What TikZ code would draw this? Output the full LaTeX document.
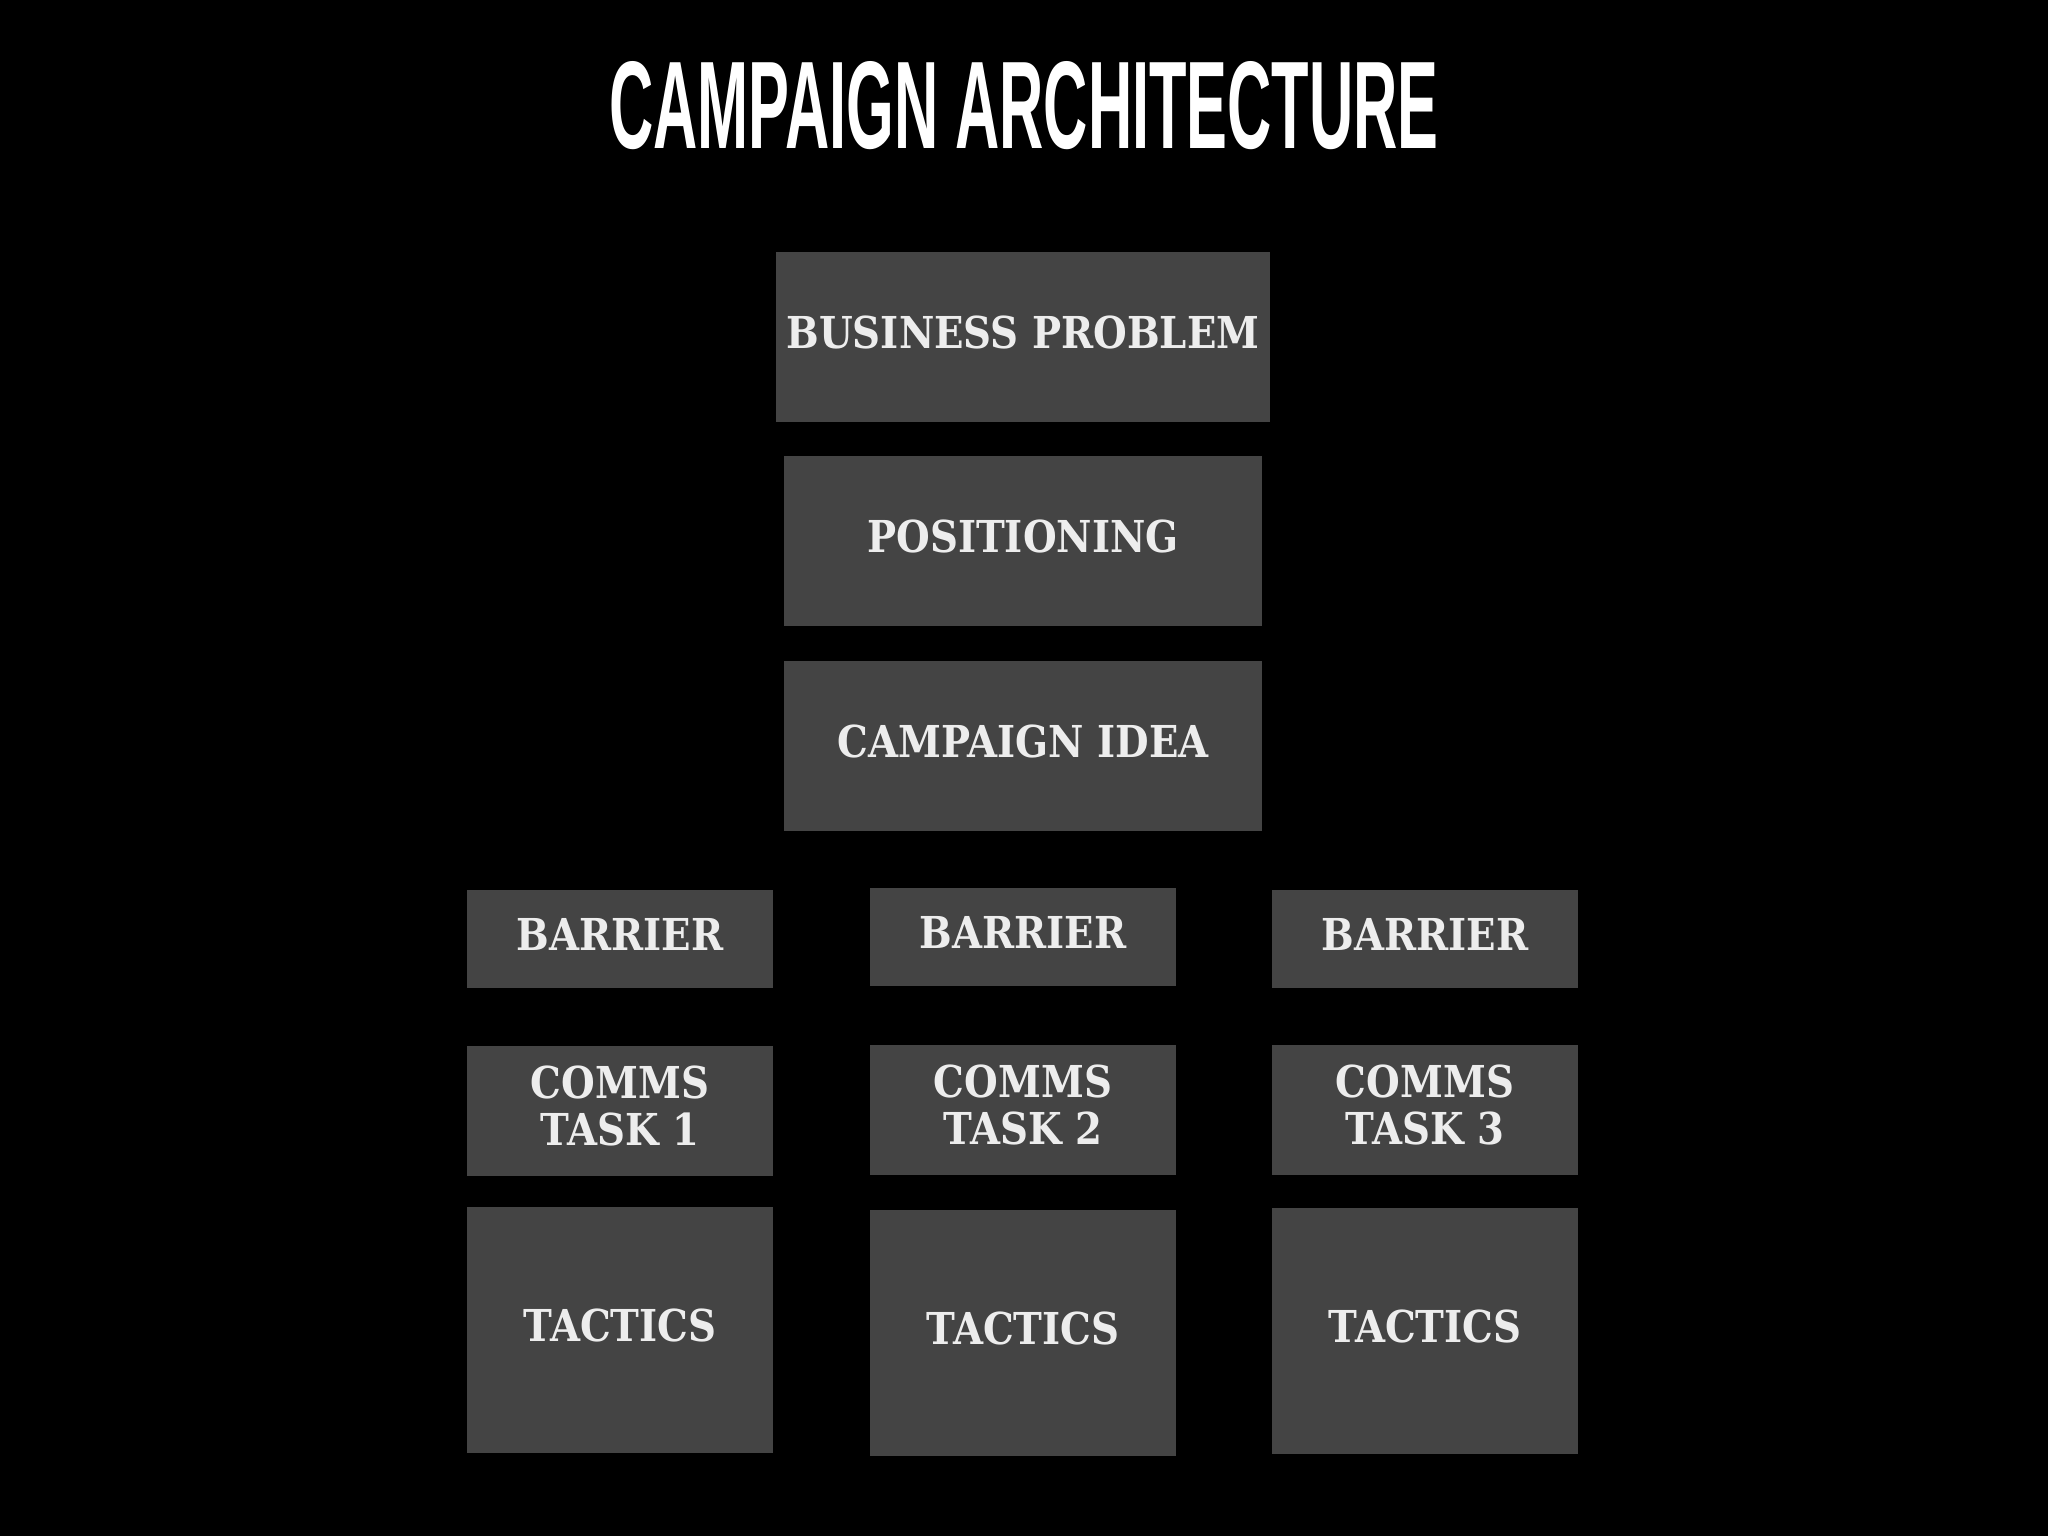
\documentclass[tikz,border=0pt]{standalone}
\usepackage{fontspec}
\usepackage{graphicx}
\newfontfamily\titlefont{Liberation Sans}
\newfontfamily\blockfont[FakeStretch=0.88]{DejaVu Serif}
\definecolor{boxgray}{HTML}{444444}
\definecolor{boxtext}{HTML}{EDEDED}

\begin{document}
\begin{tikzpicture}[
    x=0.01cm, y=-0.01cm,
    block/.style={%
      rectangle,
      fill=boxgray,
      inner sep=0pt,
      text=boxtext,
      text depth=2.8pt,
      font=\blockfont\bfseries\fontsize{12.5pt}{13.4pt}\selectfont,
    },
    wide/.style={block, minimum width=4.78cm, minimum height=1.70cm},
    col/.style={block, minimum width=3.05cm},
  ]

    \fill [black] (0,0) rectangle (2048,1536);

    \node [text=white] (title) at (1024,106)
      {\resizebox{8.29cm}{0.87cm}{\titlefont\bfseries CAMPAIGN ARCHITECTURE}};

    \node [wide, minimum width=4.94cm] (P) at (1023,337) {BUSINESS PROBLEM};
    \node [wide] (Q) at (1023,541) {POSITIONING};
    \node [wide] (I) at (1023,746) {CAMPAIGN IDEA};

    \node [col, minimum height=0.97cm] (B1) at (620,939) {BARRIER};
    \node [col, minimum height=0.97cm] (B2) at (1023,937) {BARRIER};
    \node [col, minimum height=0.97cm] (B3) at (1425,939) {BARRIER};

    \node [col, align=center, minimum height=1.29cm] (C1) at (620,1111) {COMMS\\TASK 1};
    \node [col, align=center, minimum height=1.29cm] (C2) at (1023,1110) {COMMS\\TASK 2};
    \node [col, align=center, minimum height=1.29cm] (C3) at (1425,1110) {COMMS\\TASK 3};

    \node [col, minimum height=2.45cm] (T1) at (620,1330) {TACTICS};
    \node [col, minimum height=2.45cm] (T2) at (1023,1333) {TACTICS};
    \node [col, minimum height=2.45cm] (T3) at (1425,1331) {TACTICS};
\end{tikzpicture}
\end{document}
